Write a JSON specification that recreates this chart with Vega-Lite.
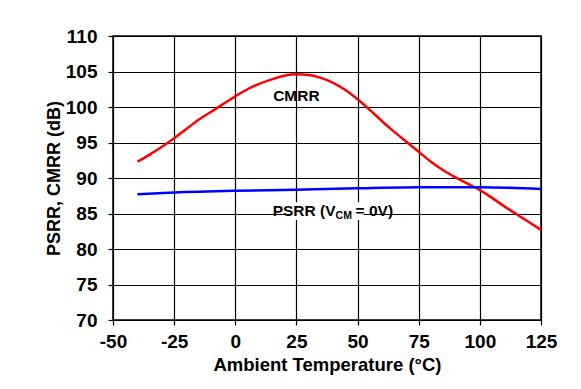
{
  "$schema": "https://vega.github.io/schema/vega-lite/v6.json",
  "width": 428,
  "height": 284,
  "autosize": {"type": "none"},
  "padding": {"left": 113, "top": 36, "right": 40, "bottom": 69},
  "background": "white",
  "config": {
    "font": "Liberation Sans",
    "view": {"stroke": "black", "strokeWidth": 1.5},
    "axis": {
      "labelFont": "Liberation Sans",
      "labelFontWeight": "bold",
      "labelFontSize": 19,
      "labelColor": "black",
      "labelOverlap": false,
      "labelBound": false,
      "labelFlush": false,
      "titleFont": "Liberation Sans",
      "titleFontWeight": "bold",
      "titleColor": "black",
      "gridColor": "black",
      "gridOpacity": 1,
      "gridWidth": 1.2,
      "tickColor": "black",
      "tickSize": 5,
      "tickWidth": 1.2,
      "domain": false
    }
  },
  "datasets": {
    "curves": [
      {"series": "CMRR", "temp": -40, "db": 92.3},
      {"series": "CMRR", "temp": -35, "db": 93.3},
      {"series": "CMRR", "temp": -30, "db": 94.4},
      {"series": "CMRR", "temp": -25, "db": 95.6},
      {"series": "CMRR", "temp": -20, "db": 96.9},
      {"series": "CMRR", "temp": -15, "db": 98.2},
      {"series": "CMRR", "temp": -10, "db": 99.3},
      {"series": "CMRR", "temp": -5, "db": 100.4},
      {"series": "CMRR", "temp": 0, "db": 101.5},
      {"series": "CMRR", "temp": 5, "db": 102.5},
      {"series": "CMRR", "temp": 10, "db": 103.3},
      {"series": "CMRR", "temp": 15, "db": 103.9},
      {"series": "CMRR", "temp": 20, "db": 104.4},
      {"series": "CMRR", "temp": 25, "db": 104.6},
      {"series": "CMRR", "temp": 30, "db": 104.5},
      {"series": "CMRR", "temp": 35, "db": 104.1},
      {"series": "CMRR", "temp": 40, "db": 103.4},
      {"series": "CMRR", "temp": 45, "db": 102.4},
      {"series": "CMRR", "temp": 50, "db": 101.1},
      {"series": "CMRR", "temp": 55, "db": 99.6},
      {"series": "CMRR", "temp": 60, "db": 98.0},
      {"series": "CMRR", "temp": 65, "db": 96.5},
      {"series": "CMRR", "temp": 70, "db": 95.1},
      {"series": "CMRR", "temp": 75, "db": 93.7},
      {"series": "CMRR", "temp": 80, "db": 92.3},
      {"series": "CMRR", "temp": 85, "db": 91.1},
      {"series": "CMRR", "temp": 90, "db": 90.1},
      {"series": "CMRR", "temp": 95, "db": 89.2},
      {"series": "CMRR", "temp": 100, "db": 88.3},
      {"series": "CMRR", "temp": 105, "db": 87.2},
      {"series": "CMRR", "temp": 110, "db": 86.0},
      {"series": "CMRR", "temp": 115, "db": 84.9},
      {"series": "CMRR", "temp": 120, "db": 83.8},
      {"series": "CMRR", "temp": 125, "db": 82.7},
      {"series": "PSRR", "temp": -40, "db": 87.7},
      {"series": "PSRR", "temp": -25, "db": 87.95},
      {"series": "PSRR", "temp": 0, "db": 88.2},
      {"series": "PSRR", "temp": 25, "db": 88.35},
      {"series": "PSRR", "temp": 50, "db": 88.55},
      {"series": "PSRR", "temp": 75, "db": 88.68},
      {"series": "PSRR", "temp": 100, "db": 88.7},
      {"series": "PSRR", "temp": 125, "db": 88.45}
    ]
  },
  "encoding": {
    "x": {
      "field": "temp",
      "type": "quantitative",
      "scale": {"domain": [-50, 125], "nice": false},
      "axis": {
        "values": [-50, -25, 0, 25, 50, 75, 100, 125],
        "labelExpr": "toString(datum.value)",
        "title": "Ambient Temperature (°C)",
        "titleFontSize": 18.5,
        "labelPadding": 7,
        "titlePadding": 4
      }
    },
    "y": {
      "field": "db",
      "type": "quantitative",
      "scale": {"domain": [70, 110], "nice": false, "zero": false},
      "axis": {
        "values": [70, 75, 80, 85, 90, 95, 100, 105, 110],
        "title": "PSRR, CMRR (dB)",
        "titleFontSize": 18,
        "labelPadding": 11,
        "titlePadding": 2
      }
    }
  },
  "layer": [
    {
      "data": {"name": "curves"},
      "mark": {"type": "line", "strokeWidth": 2.5, "interpolate": "monotone"},
      "encoding": {
        "color": {
          "field": "series",
          "type": "nominal",
          "scale": {"domain": ["CMRR", "PSRR"], "range": ["#ff0000", "#0000ff"]},
          "legend": null
        }
      }
    },
    {
      "data": {"values": [{"label": "CMRR", "temp": 25, "db": 101.6}]},
      "mark": {"type": "text", "fontSize": 15.5, "fontWeight": "bold", "color": "black", "baseline": "middle", "align": "center"},
      "encoding": {"text": {"field": "label"}}
    },
    {
      "data": {"values": [{"temp": 23, "temp_end": 52.5, "db": 84.1, "db_end": 86.6}]},
      "mark": {"type": "rect", "color": "white"},
      "encoding": {
        "x2": {"field": "temp_end"},
        "y2": {"field": "db_end"}
      }
    },
    {
      "data": {"values": [{"label": "PSRR (V", "temp": 41, "db": 85.3}]},
      "mark": {"type": "text", "fontSize": 15.5, "fontWeight": "bold", "color": "black", "baseline": "middle", "align": "right"},
      "encoding": {"text": {"field": "label"}}
    },
    {
      "data": {"values": [{"label": "CM", "temp": 41, "db": 85.3}]},
      "mark": {"type": "text", "fontSize": 10.5, "fontWeight": "bold", "color": "black", "baseline": "middle", "align": "left", "dy": 5},
      "encoding": {"text": {"field": "label"}}
    },
    {
      "data": {"values": [{"label": "= 0V)", "temp": 41, "db": 85.3}]},
      "mark": {"type": "text", "fontSize": 15.5, "fontWeight": "bold", "color": "black", "baseline": "middle", "align": "left", "dx": 20},
      "encoding": {"text": {"field": "label"}}
    }
  ]
}
